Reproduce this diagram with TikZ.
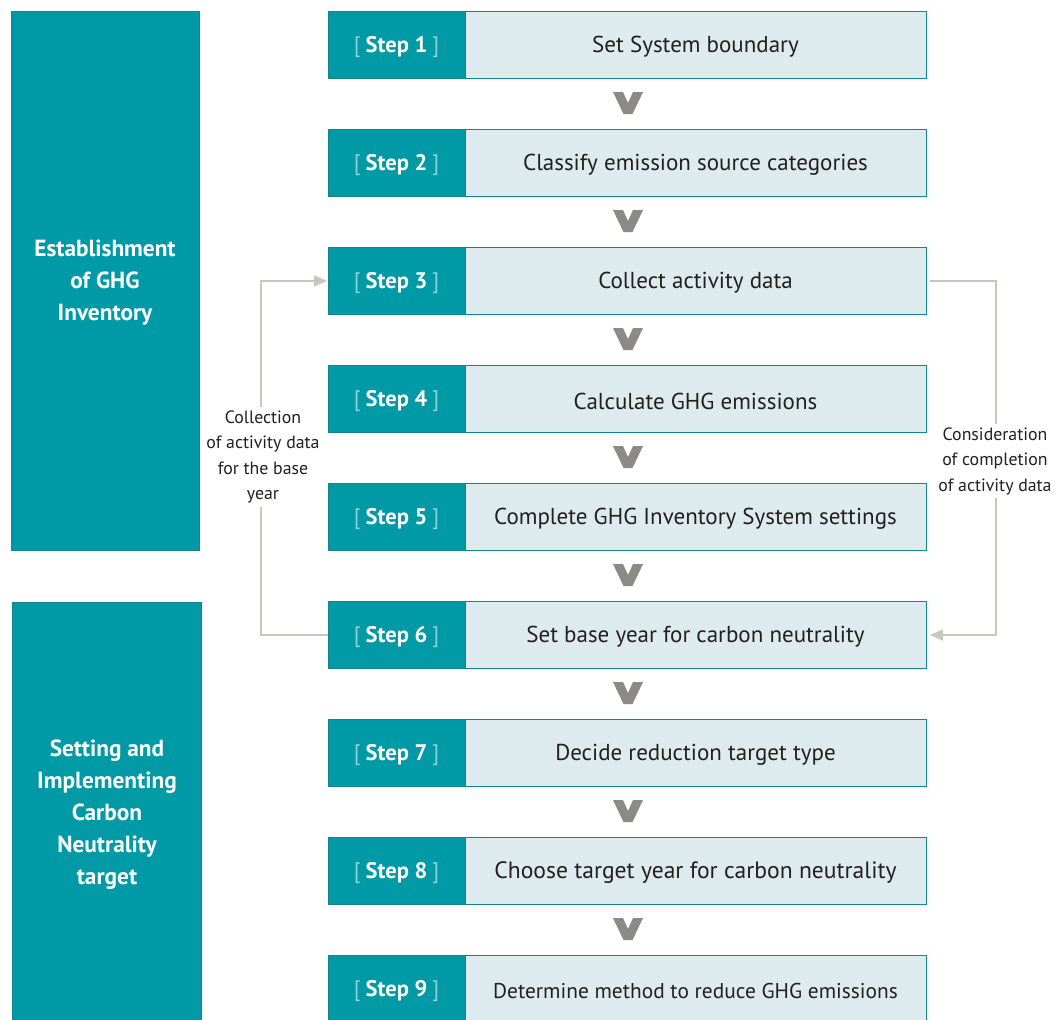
\documentclass[tikz,border=0pt]{standalone}
\usepackage{fontspec}
\setmainfont{PT Sans}
\usetikzlibrary{arrows.meta}
\definecolor{teal1}{HTML}{009AA6}
\definecolor{tealedge}{HTML}{12858E}
\definecolor{paleblue}{HTML}{DDEAEE}
\definecolor{bracketc}{HTML}{8ED2D7}
\definecolor{inktext}{HTML}{231F20}
\definecolor{chevronc}{HTML}{8C8A85}
\definecolor{linkc}{HTML}{C9C6BE}
\tikzset{
  x=1pt, y=-1pt,
  panel/.style={fill=teal1, draw=tealedge, line width=0.8pt},
  panellabel/.style={text=white, font=\fontsize{23.3}{32}\selectfont\bfseries, align=center},
  stepcell/.style={fill=teal1, draw=tealedge, line width=0.8pt},
  taskcell/.style={fill=paleblue, draw=tealedge, line width=0.8pt},
  steplabel/.style={text=white, font=\fontsize{22.5}{26}\selectfont},
  tasklabel/.style={text=inktext, font=\fontsize{23}{26}\selectfont},
  chevron/.style={fill=chevronc, draw=none},
  link/.style={draw=linkc, line width=1.6pt},
  linktip/.style={-{Triangle[length=13pt,width=11pt]}},
  notelabel/.style={text=inktext, font=\fontsize{17.8}{25.5}\selectfont, align=center}
}
\newcommand{\stepname}[1]{{\color{bracketc}[}\hspace{5pt}\textbf{Step #1}\hspace{5pt}{\color{bracketc}]}}
\newcommand{\longtask}{\fontsize{21.4}{26}\selectfont}
\begin{document}
\begin{tikzpicture}
\useasboundingbox (0,0) rectangle (1055,1020);

% phase panels on the left
\filldraw[panel] (11,11) rectangle (199,550);
\node[panellabel] (phaseA) at (105,283) {Establishment\\of GHG\\Inventory};
\filldraw[panel] (12,602) rectangle (201,1022);
\node[panellabel] (phaseB) at (107,815) {Setting and\\Implementing\\Carbon\\Neutrality\\target};

% the nine steps
\foreach \i/\task in {
  1/{Set System boundary},
  2/{Classify emission source categories},
  3/{Collect activity data},
  4/{Calculate GHG emissions},
  5/{Complete GHG Inventory System settings},
  6/{Set base year for carbon neutrality},
  7/{Decide reduction target type},
  8/{\fontsize{23.6}{26}\selectfont Choose target year for carbon neutrality},
  9/{\longtask Determine method to reduce GHG emissions}} {
  \pgfmathsetmacro{\top}{11+118*(\i-1)}
  \pgfmathsetmacro{\mid}{\top+34}
  \filldraw[stepcell] (328,\top) rectangle (465,\top+67);
  \filldraw[taskcell] (465,\top) rectangle (926,\top+67);
  \coordinate (s\i w) at (328,\mid);
  \coordinate (s\i e) at (926,\mid);
  \node[steplabel] (s\i) at (396.5,\mid+2) {\stepname{\i}};
  \node[tasklabel] (t\i) at (695.5,\mid+2) {\task};
}

% chevrons between the steps
\foreach \i in {1,...,8} {
  \pgfmathsetmacro{\cy}{11+118*(\i-1)+67+14}
  \fill[chevron] (613,\cy) -- (623,\cy) -- (628,\cy+11) -- (633,\cy) -- (643,\cy)
    -- (632.5,\cy+22) -- (623.5,\cy+22) -- cycle;
}

% feedback loop on the left: base-year data back to step 3
\node[notelabel] (noteL) at (263,457) {Collection\\of activity data\\for the base\\year};
\coordinate (lx) at (261,0);
\draw[link] (s6w) -- (s6w -| lx) -- (noteL.south -| lx);
\draw[link, linktip] (noteL.north -| lx) -- (s3w -| lx) -- ([xshift=-1pt]s3w);

% feedback loop on the right: completion check into step 6
\node[notelabel] (noteR) at (995,461) {Consideration\\of completion\\of activity data};
\coordinate (rx) at (996,0);
\draw[link] ([xshift=4pt]s3e) -- (s3e -| rx) -- (noteR.north -| rx);
\draw[link, linktip] (noteR.south -| rx) -- (s6e -| rx) -- ([xshift=4pt]s6e);
\end{tikzpicture}
\end{document}
